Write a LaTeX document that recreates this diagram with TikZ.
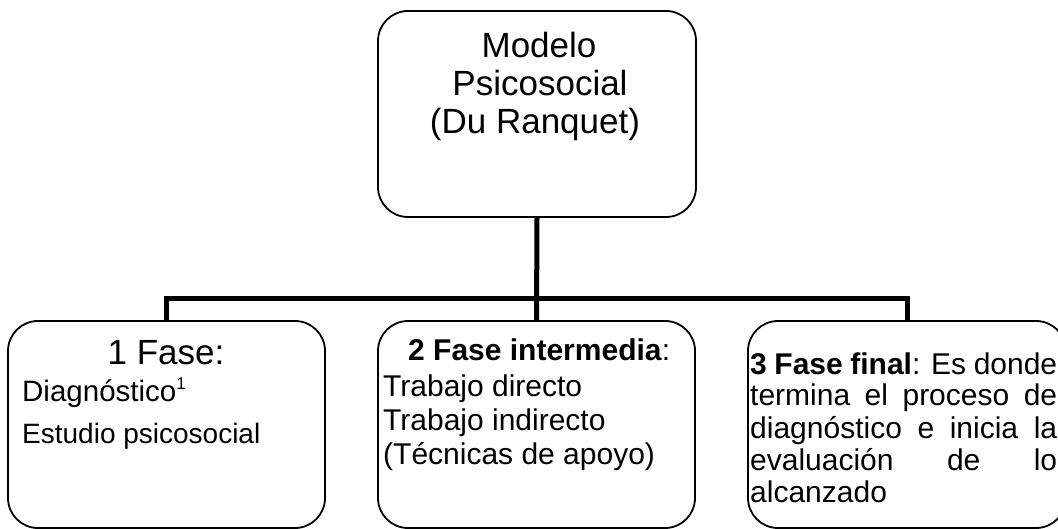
\documentclass[tikz,border=0pt]{standalone}
\usepackage{fontspec}
\setmainfont{Liberation Sans}
\begin{document}
\begin{tikzpicture}[x=1pt,y=-1pt,
  box/.style={draw=black,line width=1.8pt,rounded corners=30pt,inner sep=0pt,fill=white},
  conn/.style={draw=black,line width=5pt},
  txt/.style={inner sep=0pt,anchor=base west},
  ctxt/.style={inner sep=0pt,anchor=base},
  titlefont/.style={font=\fontsize{35}{38}\selectfont},
  bodyfont/.style={font=\fontsize{30}{34}\selectfont}]
\useasboundingbox (0,0) rectangle (1058,529);
% boxes
\node[box,minimum width=318pt,minimum height=206pt] (top) at (537,114) {};
\node[box,minimum width=317pt,minimum height=207pt] (lb) at (166.5,424.5) {};
\node[box,minimum width=317pt,minimum height=207pt] (mb) at (536.5,424.5) {};
\node[box,minimum width=318pt,minimum height=207pt] (rb) at (907,424.5) {};
\coordinate (bus) at (537,298.5);
% connectors
\draw[conn] (top.south) -- (mb.north);
\draw[conn] (lb.north) |- (bus) -| (rb.north);
% top text
\node[ctxt,titlefont] (t1) at (539,58) {Modelo};
\node[ctxt,titlefont] (t2) at (540,96) {Psicosocial};
\node[ctxt,titlefont] (t3) at (535,134) {(Du Ranquet)};
% left text
\node[ctxt,titlefont] (l1) at (166,365) {1 Fase:};
\node[txt,font=\fontsize{29.5}{33}\selectfont] (l2) at (22,401) {Diagnóstico\raisebox{12pt}{\fontsize{17}{19}\selectfont 1}};
\node[txt,font=\fontsize{28}{32}\selectfont] (l3) at (22,443) {Estudio psicosocial};
% middle text
\node[txt,bodyfont] (m1) at (408,360) {\textbf{2 Fase intermedia}:};
\node[txt,bodyfont] (m2) at (383,396) {Trabajo directo};
\node[txt,bodyfont] (m3) at (383,430) {Trabajo indirecto};
\node[txt,bodyfont] (m4) at (383,464) {(Técnicas de apoyo)};
% right text
\node[txt,bodyfont] (r1) at (750,374) {\makebox[307pt][s]{\textbf{3 Fase final}: Es donde}};
\node[txt,bodyfont] (r2) at (750,406) {\makebox[307pt][s]{termina el proceso de}};
\node[txt,bodyfont] (r3) at (750,438) {\makebox[307pt][s]{diagnóstico e inicia la}};
\node[txt,bodyfont] (r4) at (750,470) {\makebox[307pt][s]{evaluación de lo}};
\node[txt,bodyfont] (r5) at (750,502) {alcanzado};
\end{tikzpicture}
\end{document}
